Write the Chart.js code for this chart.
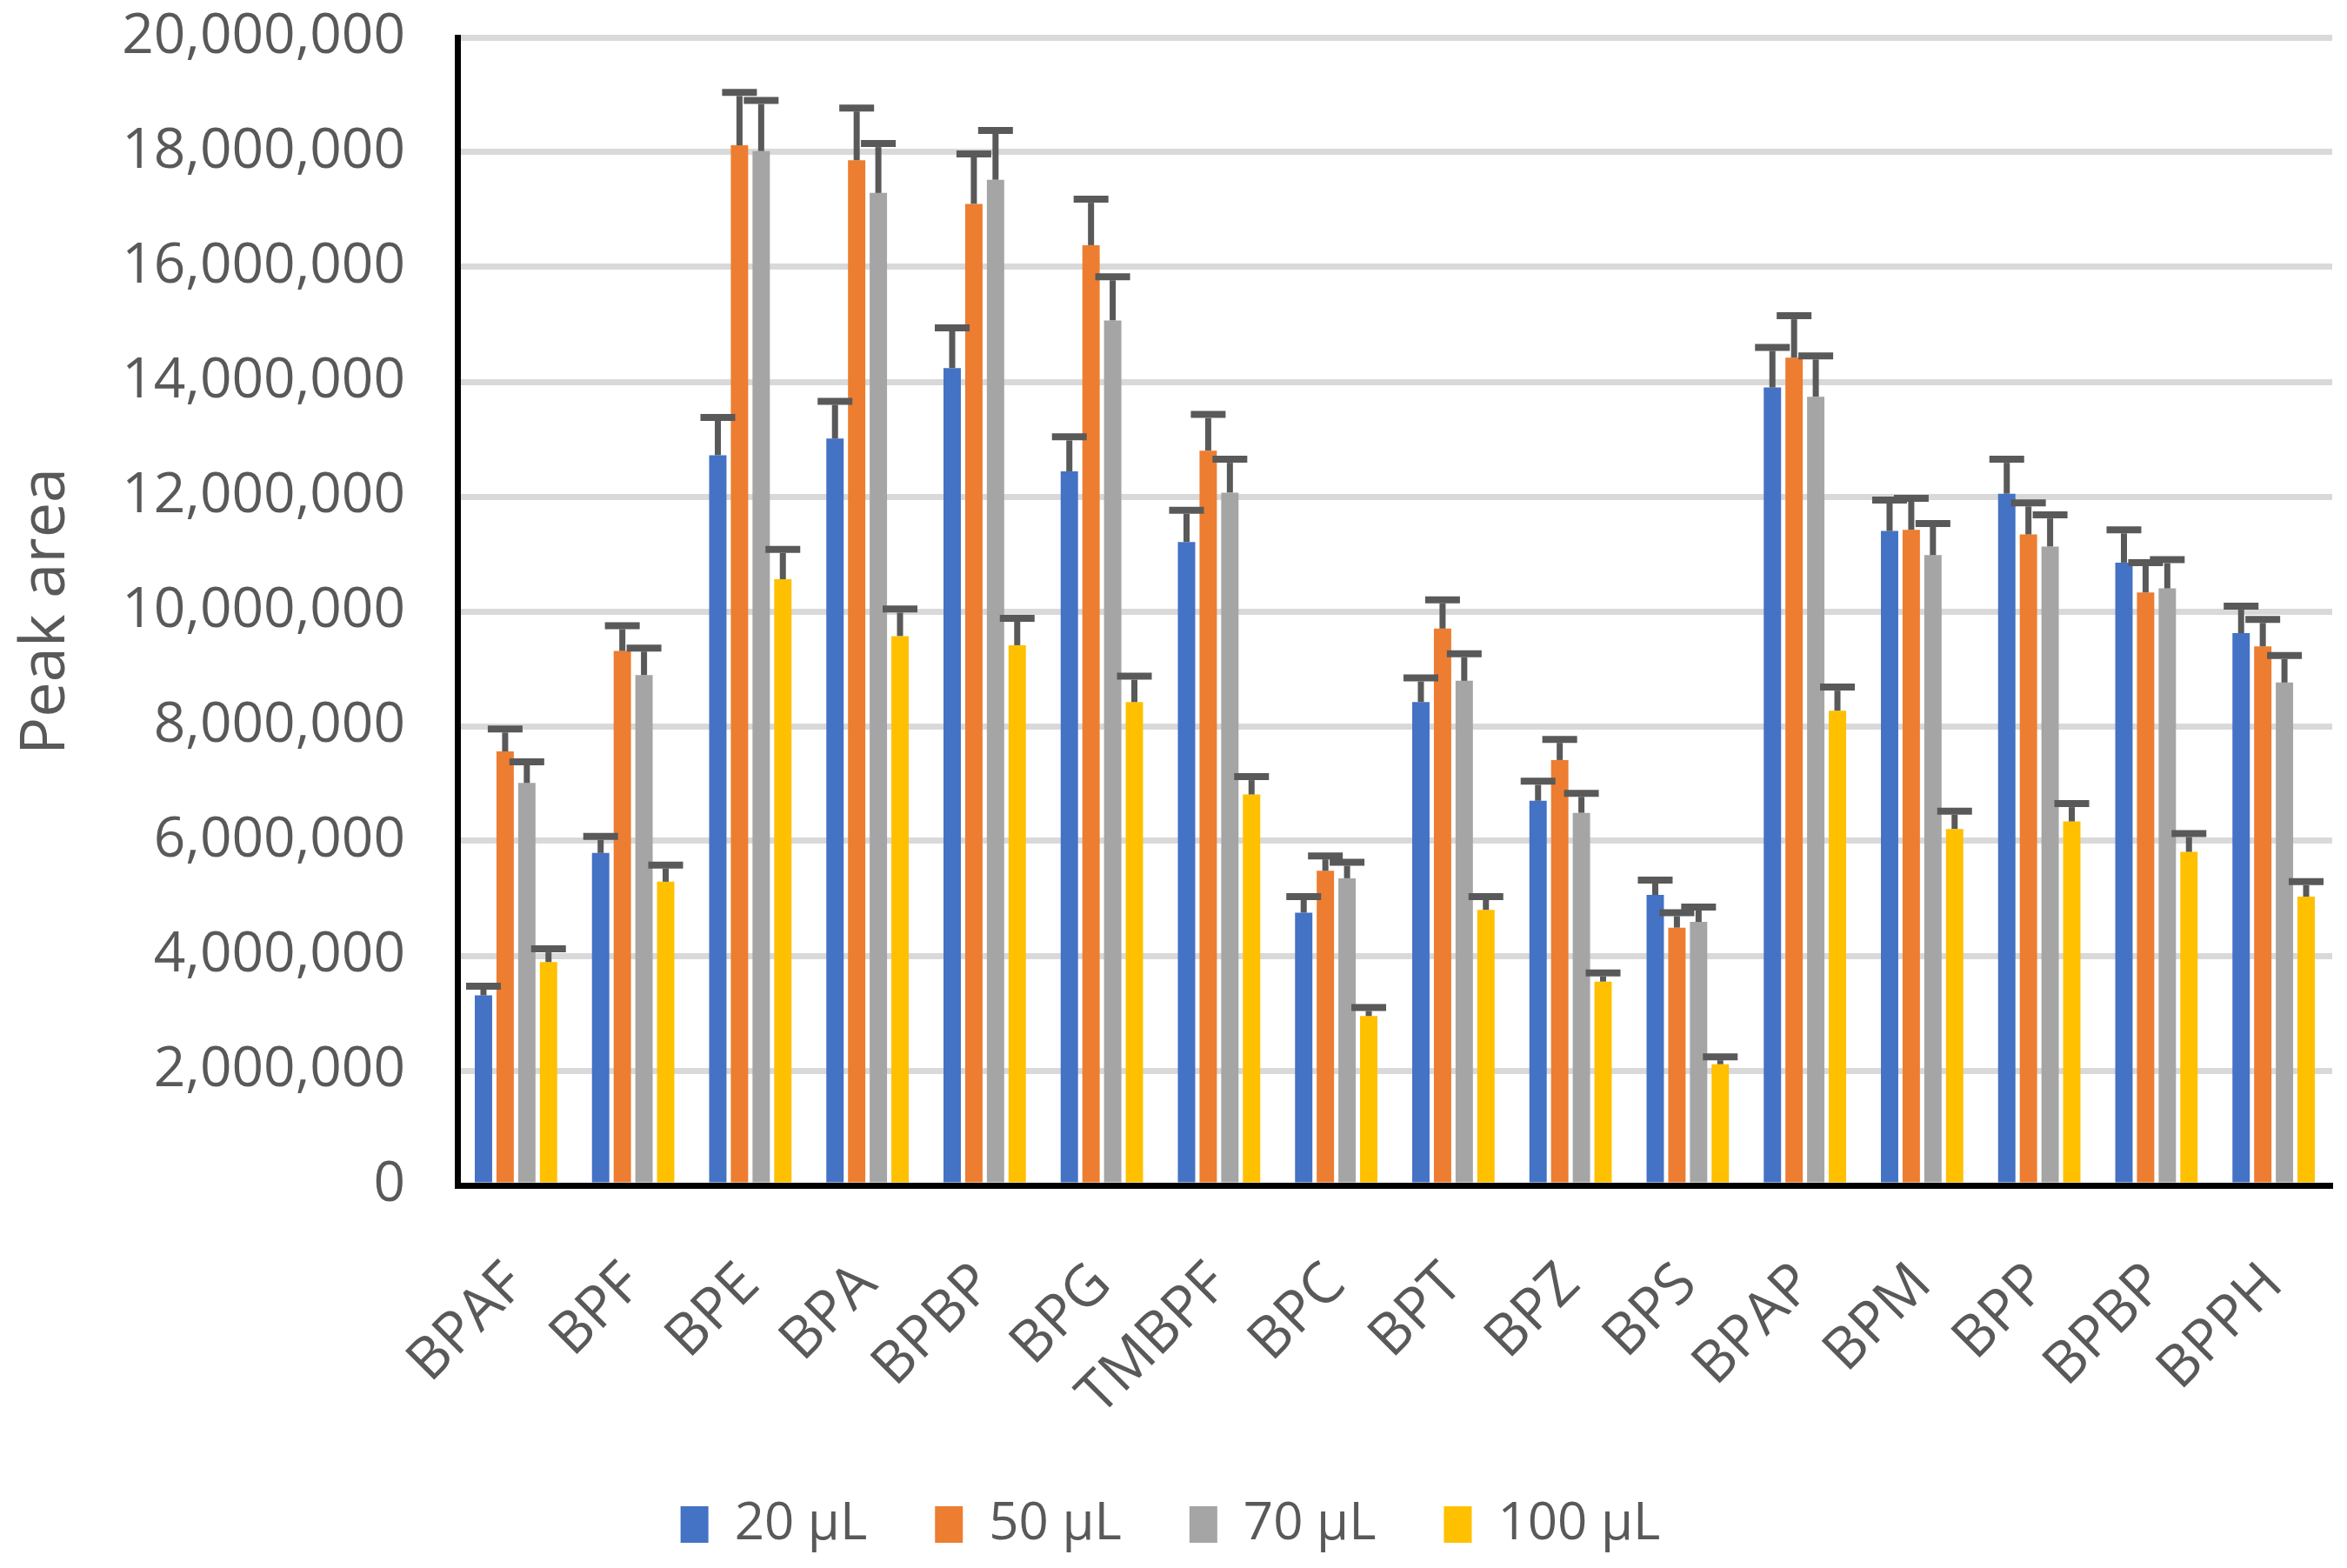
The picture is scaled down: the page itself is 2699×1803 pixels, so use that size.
<!DOCTYPE html>
<html>
<head>
<meta charset="utf-8">
<script src="https://cdn.jsdelivr.net/npm/chart.js@4.4.1/dist/chart.umd.min.js"></script>
<style>
  html, body { margin: 0; padding: 0; background: #fff; }
  canvas { display: block; }
</style>
</head>
<body>
<canvas id="peakChart" width="2699" height="1803" style="width:2699px;height:1803px"></canvas>
<script>
// --- peak area by injection volume, with upward error bars ---

const categories = ['BPAF', 'BPF', 'BPE', 'BPA', 'BPBP', 'BPG', 'TMBPF', 'BPC', 'BPT', 'BPZ', 'BPS', 'BPAP', 'BPM', 'BPP', 'BPBP', 'BPPH'];
const seriesNames = ['20 μL', '50 μL', '70 μL', '100 μL'];

const v20  = [3310000, 5790000, 12720000, 13010000, 14240000, 12440000, 11210000, 4750000, 8420000, 6700000, 5060000, 13900000, 11400000, 12050000, 10850000, 9620000];
const v50  = [7560000, 9310000, 18120000, 17860000, 17100000, 16380000, 12800000, 5480000, 9700000, 7410000, 4490000, 14420000, 11420000, 11340000, 10330000, 9390000];
const v70  = [7010000, 8890000, 18020000, 17290000, 17520000, 15070000, 12070000, 5350000, 8790000, 6490000, 4590000, 13740000, 10980000, 11130000, 10400000, 8760000];
const v100 = [3890000, 5290000, 10560000, 9570000, 9410000, 8420000, 6810000, 2950000, 4800000, 3550000, 2110000, 8270000, 6210000, 6340000, 5810000, 5030000];

const err20  = [160000, 290000, 660000, 650000, 700000, 600000, 550000, 280000, 420000, 340000, 260000, 700000, 540000, 600000, 570000, 470000];
const err50  = [390000, 440000, 920000, 910000, 870000, 800000, 630000, 260000, 500000, 360000, 260000, 730000, 550000, 550000, 520000, 470000];
const err70  = [370000, 470000, 880000, 860000, 860000, 760000, 580000, 280000, 470000, 340000, 260000, 710000, 550000, 550000, 500000, 470000];
const err100 = [230000, 290000, 520000, 470000, 470000, 450000, 310000, 150000, 230000, 150000, 130000, 410000, 310000, 310000, 320000, 260000];

const colors = ['#4472C4', '#ED7D31', '#A5A5A5', '#FFC000'];
const values = [v20, v50, v70, v100];
const errors = [err20, err50, err70, err100];

// error bars: stem from bar top up to value+err, with a cap
const errorBars = {
    id: 'errorBars',
    afterDatasetsDraw(chart) {
        const ctx = chart.ctx, y = chart.scales.y;
        ctx.save();
        ctx.strokeStyle = '#595959';
        ctx.lineCap = 'butt';
        chart.data.datasets.forEach((ds, di) => {
            chart.getDatasetMeta(di).data.forEach((bar, i) => {
                const top = y.getPixelForValue(ds.data[i] + ds.errors[i]);
                ctx.lineWidth = 7;
                ctx.beginPath(); ctx.moveTo(bar.x, bar.y); ctx.lineTo(bar.x, top + 4); ctx.stroke();
                ctx.lineWidth = 8;
                ctx.beginPath(); ctx.moveTo(bar.x - 20, top); ctx.lineTo(bar.x + 20, top); ctx.stroke();
            });
        });
        ctx.restore();
    }
};

Chart.defaults.font.family = '"Open Sans", "Noto Sans", sans-serif';
Chart.defaults.color = '#595959';

new Chart(document.getElementById('peakChart').getContext('2d'), {
    type: 'bar',
    data: {
        labels: categories,
        datasets: seriesNames.map((name, k) => ({
            label: name, data: values[k], errors: errors[k],
            backgroundColor: colors[k], borderWidth: 0,
            categoryPercentage: 0.74, barPercentage: 0.8
        }))
    },
    options: {
        responsive: false, animation: false, devicePixelRatio: 1,
        layout: { padding: { left: 10, right: 17, top: 43, bottom: 10 } },
        plugins: {
            tooltip: { enabled: false },
            legend: {
                position: 'bottom',
                labels: { font: { size: 60 }, boxWidth: 32, boxHeight: 42, padding: 78 }
            }
        },
        scales: {
            x: {
                grid: { display: false, drawTicks: false },
                border: { display: true, color: '#000', width: 7 },
                ticks: { font: { size: 66 }, minRotation: 45, maxRotation: 45, padding: 75, autoSkip: false },
                afterFit: s => { s.height = 282; s.paddingLeft = 0; s.paddingRight = 0; }
            },
            y: {
                min: 0, max: 20000000,
                grid: { color: '#D9D9D9', lineWidth: 7, drawTicks: false },
                border: { display: true, color: '#000', width: 7 },
                ticks: {
                    stepSize: 2000000, font: { size: 64 }, padding: 60,
                    callback: v => v.toLocaleString('en-US')
                },
                title: { display: true, text: 'Peak area', font: { size: 72 }, padding: { top: 0, bottom: 10 } },
                afterFit: s => { s.width = 516; s.paddingTop = 0; s.paddingBottom = 0; }
            }
        }
    },
    plugins: [errorBars]
});
</script>
</body>
</html>
